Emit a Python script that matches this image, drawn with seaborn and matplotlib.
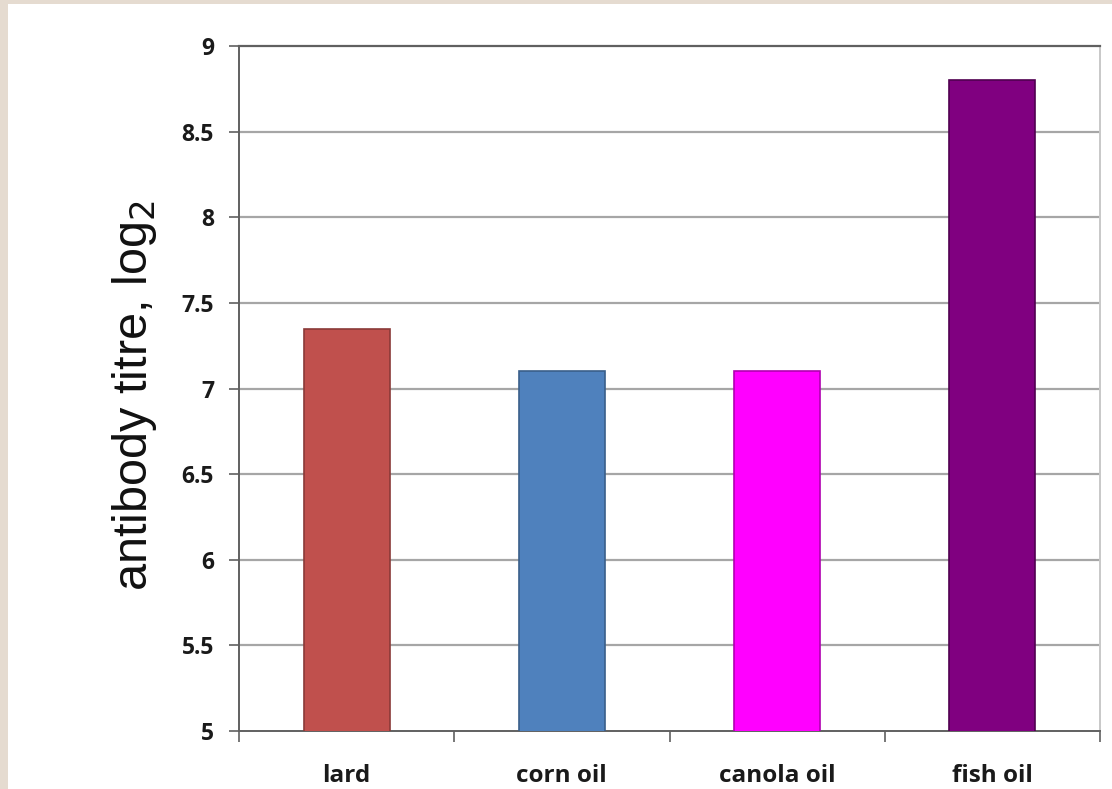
import matplotlib
matplotlib.use("Agg")
import matplotlib.pyplot as plt
import matplotlib.patches as mpatches
import seaborn as sns
import pandas as pd

# Diet groups and their mean antibody titres (log2)
diets = ["lard", "corn oil", "canola oil", "fish oil"]
titres = [7.35, 7.1, 7.1, 8.8]
bar_colors = ["#C0504D", "#4F81BD", "#FF00FF", "#800080"]
edge_colors = ["#8A3A38", "#3A5F8A", "#B000B0", "#500050"]
y_ticks = [5, 5.5, 6, 6.5, 7, 7.5, 8, 8.5, 9]
y_tick_labels = ["5", "5.5", "6", "6.5", "7", "7.5", "8", "8.5", "9"]

df = pd.DataFrame({"diet": diets, "titre": titres})

sns.set_theme(style="white")
fig = plt.figure(figsize=(11.12, 7.89), dpi=100, facecolor="#E5DBD0")
# white card on the beige background
fig.patches.append(mpatches.Rectangle((8 / 1112, 0), 1 - 8 / 1112, 1 - 4 / 789,
                                      transform=fig.transFigure, facecolor="white",
                                      edgecolor="none", zorder=-10))
ax = fig.add_axes([239 / 1112, 1 - 731 / 789, (1100 - 239) / 1112, (731 - 46) / 789])
ax.set_facecolor("white")

sns.barplot(data=df, x="diet", y="titre", hue="diet", palette=bar_colors,
            order=diets, width=0.40, saturation=1, legend=False, ax=ax, zorder=3)
for patch, ec in zip(ax.patches, edge_colors):
    patch.set_edgecolor(ec)
    patch.set_linewidth(1.2)

ax.set_ylim(5, 9)
ax.set_xlim(-0.5, 3.5)
ax.set_yticks(y_ticks)
ax.set_yticklabels(y_tick_labels, fontfamily="Open Sans", fontweight="bold", fontsize=16.5,
                   color="#1A1A1A")
for t in y_ticks[1:-1]:
    ax.axhline(t, color="#A6A6A6", lw=1.6, zorder=1)

# category ticks sit at the boundaries between groups
ax.set_xticks([-0.5, 0.5, 1.5, 2.5, 3.5], minor=False)
ax.set_xticklabels([])
ax.set_xticks(range(len(diets)), minor=True)
ax.set_xticklabels(diets, minor=True, fontfamily="Open Sans", fontweight="bold",
                   fontsize=17.5, color="#1A1A1A")
ax.tick_params(axis="x", which="major", direction="out", length=8, width=1.2,
               color="#606060", bottom=True)
ax.xaxis.get_major_ticks()[-1].tick1line.set_color("#C8C8C8")
ax.tick_params(axis="x", which="minor", length=0, pad=24)
ax.tick_params(axis="y", direction="out", length=7, width=1.2, color="#606060",
               left=True, pad=11)

ax.set_xlabel("")
ax.set_ylabel("antibody titre, log$_2$", fontfamily="Liberation Sans", fontsize=35,
              labelpad=16, color="#111111")
ax.yaxis.label.set_y(0.49)

for side in ["left", "bottom"]:
    ax.spines[side].set_color("#606060")
    ax.spines[side].set_linewidth(1.4)
ax.spines["top"].set_color("#606060")
ax.spines["top"].set_linewidth(1.6)
ax.spines["right"].set_color("#C8C8C8")
ax.spines["right"].set_linewidth(1.4)

fig.savefig("out.png", dpi=100, facecolor=fig.get_facecolor())
